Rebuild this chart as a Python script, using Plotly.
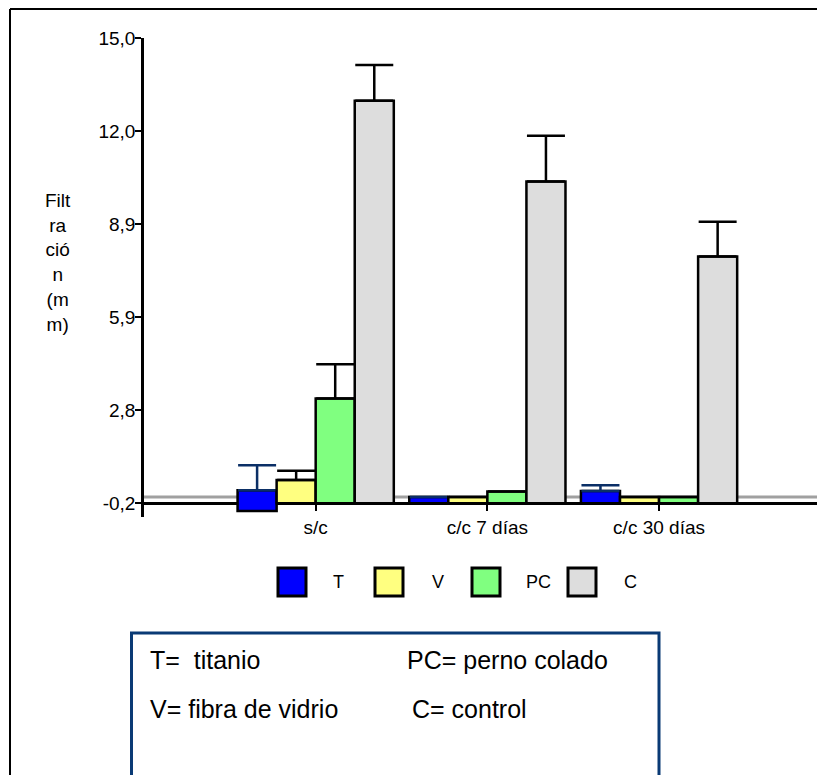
import plotly.graph_objects as go

# ---- data ----
categories = ["s/c", "c/c 7 días", "c/c 30 días"]
series = ["T", "V", "PC", "C"]
colors = ["#0000ff", "#ffff80", "#80ff80", "#dddddd"]
err_colors = ["#0b2f66", "#000000", "#000000", "#000000"]

T_top = [0.22, 0.0, 0.20]
V_top = [0.56, 0.0, 0.0]
PC_top = [3.22, 0.18, 0.0]
C_top = [12.95, 10.31, 7.86]
T_base = [-0.45, -0.2, -0.2]
V_base = [-0.2, -0.2, -0.2]
PC_base = [-0.2, -0.2, -0.2]
C_base = [-0.2, -0.2, -0.2]
T_err = [0.82, 0.0, 0.19]
V_err = [0.30, 0.0, 0.0]
PC_err = [1.12, 0.0, 0.0]
C_err = [1.17, 1.50, 1.14]

y_min, y_max, y_axis_at = -0.65, 15.0, -0.2
tick_vals = [-0.2, 2.84, 5.88, 8.92, 11.96, 15.0]
tick_text = ["-0,2", "2,8", "5,9", "8,9", "12,0", "15,0"]
y_title = "Filt<br>ra<br>ció<br>n<br>(m<br>m)"
key_lines = [("T=  titanio", "PC= perno colado"), ("V= fibra de vidrio", "C= control")]

tops = [T_top, V_top, PC_top, C_top]
bases = [T_base, V_base, PC_base, C_base]
errs = [T_err, V_err, PC_err, C_err]

# ---- layout geometry (pixels) ----
W, H = 817, 775
L, R, T, B = 144, 0, 38, 258
pw, ph = W - L - R, H - T - B


def px(x):
    return (x - L) / pw


def py(y):
    return (H - B - y) / ph


fig = go.Figure()
for name, col, ecol, top, base, err in zip(series, colors, err_colors, tops, bases, errs):
    fig.add_trace(go.Bar(
        x=categories, y=[t - b for t, b in zip(top, base)], base=base, name=name,
        marker=dict(color=col, line=dict(color="black", width=2.5)),
        error_y=dict(type="data", symmetric=False, array=err, arrayminus=[0] * len(err),
                     color=ecol, thickness=2.5, width=19),
        showlegend=False,
    ))

shapes = []
# zero line (grey)
shapes.append(dict(type="line", xref="paper", yref="y", x0=0, x1=1.02, y0=0, y1=0,
                   line=dict(color="#a0a0a0", width=3), layer="below"))
# outer frame
shapes.append(dict(type="line", xref="paper", yref="paper", x0=px(10), x1=px(10), y0=py(9), y1=py(800),
                   line=dict(color="black", width=2)))
shapes.append(dict(type="line", xref="paper", yref="paper", x0=px(10), x1=px(830), y0=py(9), y1=py(9),
                   line=dict(color="black", width=2)))
# key box
shapes.append(dict(type="rect", xref="paper", yref="paper", x0=px(131.5), x1=px(659), y0=py(633), y1=py(800),
                   line=dict(color="#0a3a75", width=3)))

annotations = []
# manual legend
leg_sq_x = [278, 375, 472, 568]
leg_tx_x = [338, 438, 538, 630]
for name, col, sx, tx in zip(series, colors, leg_sq_x, leg_tx_x):
    shapes.append(dict(type="rect", xref="paper", yref="paper", x0=px(sx), x1=px(sx + 28),
                       y0=py(568), y1=py(596), fillcolor=col, line=dict(color="black", width=3)))
    annotations.append(dict(xref="paper", yref="paper", x=px(tx), y=py(582), text=name, showarrow=False,
                            xanchor="center", yanchor="middle", font=dict(size=18, color="black")))

# y title
annotations.append(dict(xref="paper", yref="paper", x=px(58), y=py(262), text=y_title, showarrow=False,
                        xanchor="center", yanchor="middle", align="center",
                        font=dict(size=19, color="black")))

# key text
for (a, b), yy, bx in zip(key_lines, [660, 709], [405, 410]):
    annotations.append(dict(xref="paper", yref="paper", x=px(148), y=py(yy), text=a, showarrow=False,
                            xanchor="left", yanchor="middle", font=dict(size=25, color="black")))
    annotations.append(dict(xref="paper", yref="paper", x=px(bx), y=py(yy), text=b, showarrow=False,
                            xanchor="left", yanchor="middle", font=dict(size=25, color="black")))

fig.update_layout(
    width=W, height=H, margin=dict(l=L, r=R, t=T, b=B, pad=0),
    paper_bgcolor="white", plot_bgcolor="white",
    barmode="group", bargap=0.09, bargroupgap=0,
    font=dict(family="Liberation Sans, Arial, sans-serif", color="black"),
    shapes=shapes, annotations=annotations,
    xaxis=dict(type="category", range=[-1, 2.92], anchor="free",
               position=(y_axis_at - y_min) / (y_max - y_min),
               showline=True, linecolor="black", linewidth=3, layer="below traces",
               ticks="outside", ticklen=6, tickwidth=2, tickcolor="black", showgrid=False,
               zeroline=False, tickfont=dict(size=19)),
    yaxis=dict(range=[y_min, y_max], tickvals=tick_vals, ticktext=tick_text, showline=True,
               linecolor="black", linewidth=2.5, ticks="outside", ticklen=6, tickwidth=2,
               tickcolor="black", showgrid=False, zeroline=False, tickfont=dict(size=19),
               ticklabelstandoff=-4),
)

fig.write_html("out.html", config={"displayModeBar": False},
               post_script="document.body.style.margin='0';")
